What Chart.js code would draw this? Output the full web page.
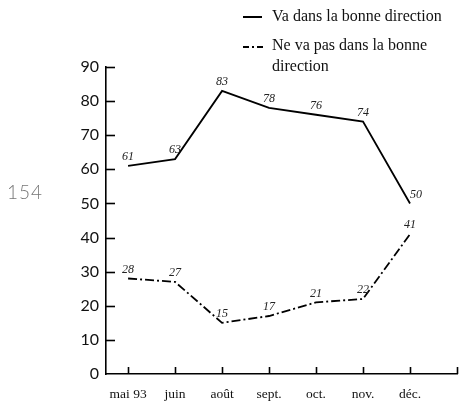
<!DOCTYPE html>
<html>
<head>
<meta charset="utf-8">
<script src="https://cdn.jsdelivr.net/npm/chart.js"></script>
<style>
  body { margin: 0; background: #fff; }
  #wrap { position: relative; width: 462px; height: 401px; }
  #page-num { position: absolute; left: 7px; top: 180px; font-family: Lato, sans-serif; font-weight: 300; font-size: 19px; color: #777; letter-spacing: 1px; }
</style>
</head>
<body>
<div id="wrap">
  <canvas id="chart" width="462" height="401"></canvas>
  <div id="page-num">154</div>
</div>
<script>
// données
const mois = ['mai 93', 'juin', 'août', 'sept.', 'oct.', 'nov.', 'déc.'];
const bonneDirection = [61, 63, 83, 78, 76, 74, 50];
const pasBonneDirection = [28, 27, 15, 17, 21, 22, 41];
const serieNoms = ['Va dans la bonne direction', 'Ne va pas dans la bonne direction'];
const yTicks = [0, 10, 20, 30, 40, 50, 60, 70, 80, 90];

const dashDot = [9, 3, 2, 3];
const serif = '"Liberation Serif", "DejaVu Serif", serif';

function toPoints(vals) {
    return vals.map((v, i) => ({ x: i, y: v }));
}

// ticks vers l'intérieur + étiquettes des valeurs + légende
const decor = {
    id: 'decor',
    afterDatasetsDraw(chart) {
        const ctx = chart.ctx;
        const xs = chart.scales.x, ys = chart.scales.y;
        const area = chart.chartArea;
        ctx.save();
        ctx.strokeStyle = '#000';
        ctx.lineWidth = 1.6;
        // ticks de l'axe x (vers le haut)
        for (let i = 0; i <= mois.length; i++) {
            const px = Math.round(xs.getPixelForValue(i)) + 0.5;
            ctx.beginPath();
            ctx.moveTo(px, ys.getPixelForValue(0));
            ctx.lineTo(px, ys.getPixelForValue(0) - 7);
            ctx.stroke();
        }
        // ticks de l'axe y (vers la droite)
        yTicks.forEach(t => {
            if (t === 0) return;
            const py = Math.round(ys.getPixelForValue(t)) + 0.5;
            ctx.beginPath();
            ctx.moveTo(area.left, py);
            ctx.lineTo(area.left + 9, py);
            ctx.stroke();
        });

        // valeurs au-dessus des points
        ctx.font = 'italic 12px ' + serif;
        ctx.fillStyle = '#222';
        ctx.textAlign = 'center';
        ctx.textBaseline = 'bottom';
        chart.data.datasets.forEach((ds, di) => {
            const meta = chart.getDatasetMeta(di);
            meta.data.forEach((pt, i) => {
                let dx = 0;
                if (di === 0 && i === mois.length - 1) dx = 6;
                ctx.fillText(String(ds.data[i].y), pt.x + dx, pt.y - 3);
            });
        });

        // légende
        ctx.font = '16px ' + serif;
        ctx.fillStyle = '#111';
        ctx.textAlign = 'left';
        ctx.textBaseline = 'middle';
        ctx.lineWidth = 2;
        ctx.beginPath();
        ctx.moveTo(243, 17);
        ctx.lineTo(262, 17);
        ctx.stroke();
        ctx.fillText(serieNoms[0], 272, 17);
        ctx.setLineDash([6, 3, 2, 3]);
        ctx.beginPath();
        ctx.moveTo(243, 47);
        ctx.lineTo(264, 47);
        ctx.stroke();
        ctx.setLineDash([]);
        ctx.fillText('Ne va pas dans la bonne', 272, 46);
        ctx.fillText('direction', 272, 67);
        ctx.restore();
    }
};

new Chart(document.getElementById('chart'), {
    type: 'line',
    data: {
        datasets: [
            {
                label: serieNoms[0],
                data: toPoints(bonneDirection),
                borderColor: '#000',
                borderWidth: 1.8,
                pointRadius: 0,
                tension: 0,
                fill: false
            },
            {
                label: serieNoms[1],
                data: toPoints(pasBonneDirection),
                borderColor: '#000',
                borderWidth: 1.8,
                borderDash: dashDot,
                pointRadius: 0,
                tension: 0,
                fill: false
            }
        ]
    },
    options: {
        responsive: false,
        animation: false,
        layout: { padding: { left: 0, top: 67, right: 5, bottom: 0 } },
        plugins: {
            legend: { display: false },
            tooltip: { enabled: false },
            title: { display: false }
        },
        scales: {
            x: {
                type: 'linear',
                min: -0.47,
                max: 7,
                afterBuildTicks: axis => {
                    axis.ticks = mois.map((m, i) => ({ value: i }));
                },
                afterFit: axis => { axis.height = 27; },
                grid: { display: false, drawTicks: false },
                border: { display: true, color: '#000', width: 1.6 },
                ticks: {
                    padding: 12,
                    autoSkip: false,
                    maxRotation: 0,
                    color: '#111',
                    font: { family: serif, size: 13.5 },
                    callback: v => mois[v] !== undefined ? mois[v] : ''
                }
            },
            y: {
                min: 0,
                max: 90,
                afterBuildTicks: axis => {
                    axis.ticks = yTicks.map(v => ({ value: v }));
                },
                afterFit: axis => { axis.width = 106; },
                grid: { display: false, drawTicks: false },
                border: { display: true, color: '#000', width: 1.6 },
                ticks: {
                    padding: 7,
                    color: '#111',
                    font: { family: 'Lato, sans-serif', size: 16 }
                }
            }
        }
    },
    plugins: [decor]
});
</script>
</body>
</html>
